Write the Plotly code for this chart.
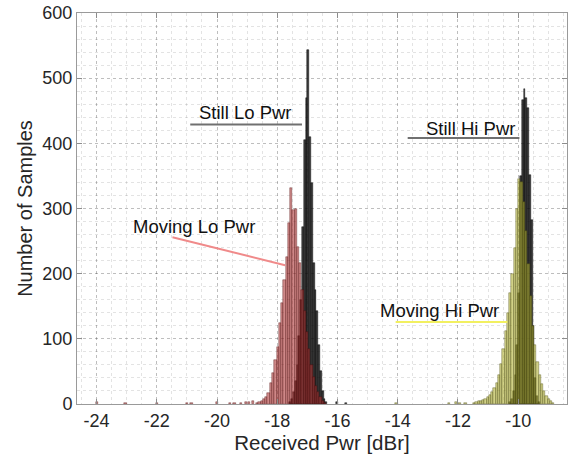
import plotly.graph_objects as go

# Received power histograms (counts per bin, dBr)
BIN_W_STILL = 0.06
BIN_W_MOVING = 0.075

still_lo_start = -17.60
still_lo_counts = [3, 8, 18, 35, 60, 105, 160, 272, 405, 469, 543, 410, 339, 216,
                   175, 142, 90, 50, 20, 8, 3]
still_lo_stray_x = [-16.03, -15.72]
still_lo_stray_n = [3, 2]

moving_lo_start = -18.70
moving_lo_counts = [2, 3, 5, 7, 10, 17, 32, 47, 67, 88, 124, 155, 190, 226, 277,
                    331, 297, 300, 241, 216, 175, 142, 110, 85, 60, 42, 28, 18, 10, 5, 2]
moving_lo_stray_x = [-23.98, -23.04, -21.99, -20.99, -20.85, -20.0, -19.58,
                     -19.42, -19.2, -19.05, -18.93, -18.8]
moving_lo_stray_n = [3, 2, 2, 2, 2, 3, 2, 2, 2, 3, 3, 4]

still_hi_start = -10.30
still_hi_counts = [3, 8, 20, 45, 90, 170, 350, 466, 483, 470, 454, 351, 282, 120,
                   40, 12, 3]

moving_hi_start = -11.50
moving_hi_counts = [2, 3, 4, 4, 6, 8, 10, 14, 18, 24, 32, 45, 62, 85, 112, 140, 170,
                    200, 240, 300, 345, 340, 310, 265, 215, 165, 120, 90, 65, 45,
                    30, 20, 12, 7, 4, 2]
moving_hi_stray_x = [-14.04, -12.3, -12.06, -11.95, -11.75]
moving_hi_stray_n = [2, 2, 3, 2, 2]

x_ticks = [-24, -22, -20, -18, -16, -14, -12, -10]
y_ticks = [0, 100, 200, 300, 400, 500, 600]

FONT = "Liberation Sans, Arial, sans-serif"


def centers(start, width, n):
    return [start + width * (i + 0.5) for i in range(n)]


def hist_trace(name, start, width, counts, fill, edge, stray_x=(), stray_n=()):
    xs = centers(start, width, len(counts)) + list(stray_x)
    ys = list(counts) + list(stray_n)
    return go.Bar(
        x=xs, y=ys, width=width, name=name,
        marker=dict(color=fill, line=dict(color=edge, width=0.5)),
        showlegend=False, hoverinfo="x+y",
    )


fig = go.Figure()
fig.add_trace(hist_trace("Still Lo Pwr", still_lo_start, BIN_W_STILL, still_lo_counts,
                         "rgba(20,20,20,0.82)", "rgba(0,0,0,0.9)",
                         still_lo_stray_x, still_lo_stray_n))
fig.add_trace(hist_trace("Still Hi Pwr", still_hi_start, BIN_W_STILL, still_hi_counts,
                         "rgba(20,20,20,0.82)", "rgba(0,0,0,0.9)"))
fig.add_trace(hist_trace("Moving Lo Pwr", moving_lo_start, BIN_W_MOVING, moving_lo_counts,
                         "rgba(170,50,50,0.58)", "rgba(80,10,10,0.75)",
                         moving_lo_stray_x, moving_lo_stray_n))
fig.add_trace(hist_trace("Moving Hi Pwr", moving_hi_start, BIN_W_MOVING, moving_hi_counts,
                         "rgba(175,175,50,0.58)", "rgba(70,70,10,0.75)",
                         moving_hi_stray_x, moving_hi_stray_n))

# Callout labels: text position and leader line (data coordinates)
labels = [
    dict(text="Still Lo Pwr", tx=-19.05, ty=447, x0=-20.89, y0=429, x1=-17.18, y1=429,
         color="#707070"),
    dict(text="Moving Lo Pwr", tx=-20.75, ty=272, x0=-21.48, y0=256, x1=-17.74, y1=213,
         color="#f08a8a"),
    dict(text="Still Hi Pwr", tx=-11.6, ty=423, x0=-13.67, y0=408, x1=-9.96, y1=408,
         color="#707070"),
    dict(text="Moving Hi Pwr", tx=-12.62, ty=144, x0=-14.07, y0=126, x1=-10.36, y1=126,
         color="#f2f060"),
]
for lb in labels:
    fig.add_shape(type="line", xref="x", yref="y", x0=lb["x0"], y0=lb["y0"],
                  x1=lb["x1"], y1=lb["y1"], line=dict(color=lb["color"], width=2))
    fig.add_annotation(x=lb["tx"], y=lb["ty"], xref="x", yref="y", text=lb["text"],
                       showarrow=False, font=dict(family=FONT, size=18.5, color="#111111"))

axis_common = dict(
    showline=True, linecolor="#9a9a9a", linewidth=1, mirror="ticks",
    ticks="inside", ticklen=5, tickcolor="#8c8c8c",
    showgrid=True, gridcolor="rgba(0,0,0,0.16)", griddash="dot", gridwidth=1,
    zeroline=False,
    tickfont=dict(family=FONT, size=18, color="#262626"),
)

fig.update_layout(
    width=570, height=460,
    margin=dict(l=77, r=3, t=13, b=56),
    paper_bgcolor="white", plot_bgcolor="white",
    barmode="overlay", bargap=0,
    font=dict(family=FONT, color="#262626"),
    xaxis=dict(
        range=[-24.65, -8.38], tickvals=x_ticks, ticktext=[str(v) for v in x_ticks],
        title=dict(text="Received Pwr [dBr]", font=dict(family=FONT, size=20.5), standoff=4),
        minor=dict(dtick=0.5, showgrid=True, gridcolor="rgba(0,0,0,0.11)",
                   griddash="dot", gridwidth=1, ticks=""),
        **axis_common,
    ),
    yaxis=dict(
        range=[0, 600], tickvals=y_ticks, ticktext=[str(v) for v in y_ticks],
        title=dict(text="Number of Samples", font=dict(family=FONT, size=20), standoff=4),
        minor=dict(dtick=20, showgrid=True, gridcolor="rgba(0,0,0,0.11)",
                   griddash="dot", gridwidth=1, ticks=""),
        **axis_common,
    ),
)

fig.write_html("out.html")
